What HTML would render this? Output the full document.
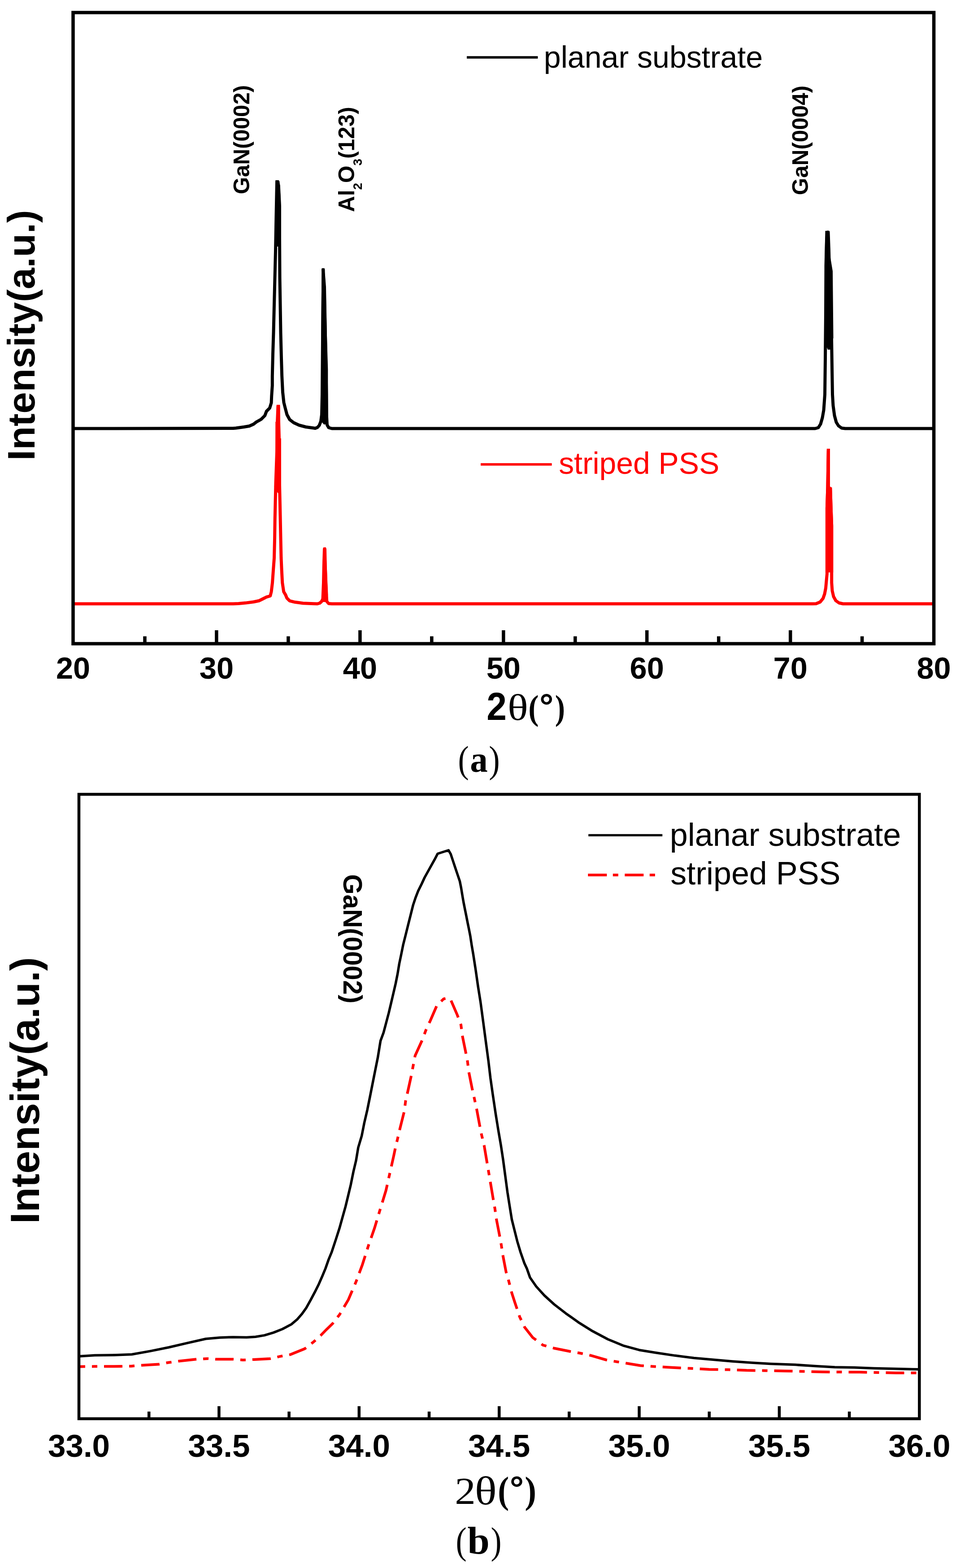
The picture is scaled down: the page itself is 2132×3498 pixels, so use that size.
<!DOCTYPE html>
<html><head><meta charset='utf-8'><title>XRD figure</title>
<style>html,body{margin:0;padding:0;background:#fff;}svg{display:block;}</style>
</head><body>
<svg width='2132' height='3498' viewBox='0 0 2132 3498'>
<rect x='0' y='0' width='2132' height='3498' fill='#fff'/>
<g id='chart-a'>
<polyline points='166.0,956.0 520.0,955.6 526.0,955.0 544.0,952.5 556.0,950.5 565.5,946.3 571.5,941.5 582.3,935.5 590.7,927.1 594.3,917.5 601.5,910.3 605.1,898.4 605.7,884.0 607.3,860.0 607.3,839.0 608.5,790.0 610.0,742.0 611.5,680.0 613.0,620.0 614.5,560.0 616.0,480.0 617.5,406.0 620.0,406.0 622.5,445.0 623.5,530.0 624.0,620.0 625.0,680.0 626.0,742.0 627.5,800.0 628.7,839.0 630.5,875.0 633.0,898.0 636.0,910.0 640.0,925.0 646.0,936.0 655.0,943.0 667.0,948.5 682.0,952.5 700.0,955.0 703.0,955.5 708.0,953.5 712.0,949.0 715.5,940.0 717.5,925.0 718.5,880.0 719.5,760.0 720.5,650.0 721.0,602.0 720.5,602.0 723.5,640.0 725.0,720.0 726.5,800.0 728.0,880.0 728.5,930.0 729.5,948.0 733.0,954.0 740.0,956.0 1818.0,956.0 1825.0,954.0 1830.0,946.0 1834.0,932.0 1837.0,915.0 1839.5,880.0 1840.5,800.0 1841.5,700.0 1842.5,600.0 1843.5,540.0 1845.0,518.0 1847.0,518.0 1848.5,560.0 1850.0,620.0 1852.0,680.0 1854.5,755.0 1855.5,820.0 1856.5,880.0 1858.0,905.0 1861.0,927.0 1865.0,942.0 1870.0,950.0 1877.0,955.0 1885.0,956.0 2079.0,956.0' fill='none' stroke='#000' stroke-width='7' stroke-linejoin='round'/>
<polygon points='614.3,402.0 621.6,402.0 624.7,413.0 627.0,460.0 627.0,540.0 626.0,550.0 613.0,550.0 612.0,517.0 614.3,517.0' fill='#000'/>
<polygon points='1840.5,515.0 1849.5,515.0 1852.0,575.0 1857.0,605.0 1858.5,754.0 1851.5,780.0 1846.0,780.0 1838.5,760.0 1838.5,593.0' fill='#000'/>
<polygon points='717.5,598.5 723.8,598.5 726.7,650.0 728.8,743.0 731.3,824.0 731.3,946.0 722.5,947.0 716.3,940.0 716.3,743.0 717.0,650.0' fill='#000'/>
<polyline points='166.0,1347.0 520.0,1347.0 532.0,1346.5 547.6,1345.1 565.5,1342.7 577.5,1340.3 587.1,1335.5 594.3,1331.9 602.7,1329.5 605.1,1320.0 607.5,1300.0 609.5,1272.0 611.5,1245.0 612.6,1200.0 613.2,1157.0 615.0,1078.0 617.8,1000.0 618.5,941.0 620.0,906.5 621.0,906.5 621.5,941.0 622.5,978.0 623.4,1078.0 625.0,1150.0 626.0,1200.0 627.0,1245.0 628.2,1272.0 629.7,1300.0 632.7,1320.0 636.9,1327.1 639.8,1334.3 645.8,1340.3 657.8,1343.3 675.8,1345.7 699.8,1346.7 708.0,1347.0 713.0,1345.5 717.0,1342.0 720.0,1336.0 721.5,1300.0 722.3,1262.0 723.5,1225.0 724.5,1225.0 725.3,1262.0 726.5,1300.0 727.8,1330.0 729.0,1342.0 733.0,1346.5 740.0,1347.0 1812.0,1347.0 1820.0,1346.8 1829.0,1343.0 1835.5,1335.0 1839.0,1325.0 1841.5,1312.0 1844.4,1280.0 1844.4,1133.0 1845.9,1087.0 1847.3,1004.5 1847.5,1004.5 1847.5,1087.0 1851.8,1090.0 1853.2,1133.0 1854.7,1173.0 1854.7,1300.0 1856.0,1318.0 1859.0,1331.0 1864.0,1340.0 1871.0,1345.0 1880.0,1347.0 2079.0,1347.0' fill='none' stroke='#f00' stroke-width='7' stroke-linejoin='round'/>
<polygon points='616.8,903.0 624.4,903.0 624.4,978.0 626.9,978.0 626.9,1085.0 620.5,1100.0 619.5,1100.0 611.6,1085.0 614.3,1078.0 614.3,941.0 616.8,941.0' fill='#f00'/>
<polygon points='1843.8,1001.0 1851.0,1001.0 1851.0,1087.0 1855.3,1087.0 1856.7,1133.0 1858.2,1173.0 1858.2,1277.0 1840.9,1277.0 1840.9,1133.0 1842.4,1087.0' fill='#f00'/>
<polygon points='721.3,1221.0 726.8,1221.0 728.9,1268.0 731.5,1326.0 731.5,1343.0 725.0,1343.0 719.3,1343.0 719.3,1260.0' fill='#f00'/>
<rect x='163.0' y='28.0' width='1919.6' height='1408.0' fill='none' stroke='#000' stroke-width='7.5'/>
<path d='M323.0,1436.0 V1419.5 M482.9,1436.0 V1406.0 M642.9,1436.0 V1419.5 M802.9,1436.0 V1406.0 M962.8,1436.0 V1419.5 M1122.8,1436.0 V1406.0 M1282.8,1436.0 V1419.5 M1442.7,1436.0 V1406.0 M1602.7,1436.0 V1419.5 M1762.7,1436.0 V1406.0 M1922.6,1436.0 V1419.5' stroke='#000' stroke-width='7.5' fill='none'/>
<text x='163.0' y='1514' font-family="'Liberation Sans', Arial, sans-serif" font-weight='bold' font-size='68.5' text-anchor='middle'>20</text>
<text x='482.9' y='1514' font-family="'Liberation Sans', Arial, sans-serif" font-weight='bold' font-size='68.5' text-anchor='middle'>30</text>
<text x='802.9' y='1514' font-family="'Liberation Sans', Arial, sans-serif" font-weight='bold' font-size='68.5' text-anchor='middle'>40</text>
<text x='1122.8' y='1514' font-family="'Liberation Sans', Arial, sans-serif" font-weight='bold' font-size='68.5' text-anchor='middle'>50</text>
<text x='1442.7' y='1514' font-family="'Liberation Sans', Arial, sans-serif" font-weight='bold' font-size='68.5' text-anchor='middle'>60</text>
<text x='1762.7' y='1514' font-family="'Liberation Sans', Arial, sans-serif" font-weight='bold' font-size='68.5' text-anchor='middle'>70</text>
<text x='2082.6' y='1514' font-family="'Liberation Sans', Arial, sans-serif" font-weight='bold' font-size='68.5' text-anchor='middle'>80</text>
<text transform='translate(1085.22,1606.30) scale(0.9177,1)' font-family="'Liberation Sans', Arial, sans-serif" font-weight='bold' font-size='87.36' fill='#000'>2</text>
<text transform='translate(1132.12,1605.50) scale(1.1610,1)' font-family="'Liberation Serif', 'Times New Roman', serif" font-weight='normal' font-size='82.23' fill='#000'>θ</text>
<text transform='translate(1178.14,1604.65) scale(0.8964,1)' font-family="'Liberation Serif', 'Times New Roman', serif" font-weight='bold' font-size='77.75' fill='#000'>(</text>
<text transform='translate(1203.05,1602.06) scale(1.0116,1)' font-family="'Liberation Sans', Arial, sans-serif" font-weight='bold' font-size='77.69' fill='#000'>°</text>
<text transform='translate(1237.64,1604.65) scale(0.8613,1)' font-family="'Liberation Serif', 'Times New Roman', serif" font-weight='bold' font-size='77.75' fill='#000'>)</text>
<text transform='translate(77,1027.5) rotate(-90)' font-family="'Liberation Sans', Arial, sans-serif" font-weight='bold' font-size='86'>Intensity(a.u.)</text>
<text transform='translate(1021.52,1723.24) scale(0.8584,1)' font-family="'Liberation Serif', 'Times New Roman', serif" font-weight='normal' font-size='84.37' fill='#000'>(</text>
<text transform='translate(1048.16,1722.39) scale(0.9516,1)' font-family="'Liberation Serif', 'Times New Roman', serif" font-weight='bold' font-size='82.88' fill='#000'>a</text>
<text transform='translate(1090.24,1723.24) scale(0.8676,1)' font-family="'Liberation Serif', 'Times New Roman', serif" font-weight='normal' font-size='84.37' fill='#000'>)</text>
<line x1='1041' y1='128' x2='1199.4' y2='128' stroke='#000' stroke-width='5.6'/>
<text x='1212.8' y='151.3' font-family="'Liberation Sans', Arial, sans-serif" font-size='68.1'>planar substrate</text>
<line x1='1072' y1='1036' x2='1230.6' y2='1036' stroke='#f00' stroke-width='5.6'/>
<text x='1246.2' y='1057.3' font-family="'Liberation Sans', Arial, sans-serif" font-size='67.8' fill='#f00'>striped PSS</text>
<text transform='translate(555.6,433.2) rotate(-90)' font-family="'Liberation Sans', Arial, sans-serif" font-weight='bold' font-size='49.2'>GaN(0002)</text>
<text transform='translate(790.3,473.1) rotate(-90)' font-family="'Liberation Sans', Arial, sans-serif" font-weight='bold' font-size='49.5'>Al<tspan font-size='28' dy='17'>2</tspan><tspan dy='-17'>O</tspan><tspan font-size='28' dy='17'>3</tspan><tspan dy='-17'>(123)</tspan></text>
<text transform='translate(1801.6,435.2) rotate(-90)' font-family="'Liberation Sans', Arial, sans-serif" font-weight='bold' font-size='49.4'>GaN(0004)</text>
</g>
<g id='chart-b'>
<polyline points='176.0,3025.8 211.3,3023.6 252.6,3023.0 293.8,3021.5 335.1,3014.1 376.4,3005.8 417.7,2996.1 459.0,2986.8 490.0,2983.9 519.9,2982.9 549.9,2983.5 569.8,2982.3 589.8,2978.9 609.8,2972.9 629.8,2965.0 649.8,2954.4 662.8,2943.4 672.9,2931.8 682.9,2917.8 692.9,2899.9 701.9,2882.9 710.9,2864.9 718.8,2846.9 725.8,2830.0 732.8,2810.0 739.5,2793.8 749.2,2764.5 757.0,2740.2 763.8,2715.8 770.6,2691.5 776.5,2667.1 782.3,2642.8 788.2,2613.6 794.0,2589.2 798.9,2560.0 806.6,2534.2 812.4,2505.0 819.2,2475.8 825.1,2446.6 830.9,2417.4 836.7,2388.2 842.6,2358.9 848.6,2322.0 855.4,2303.5 861.2,2281.6 867.0,2259.6 872.2,2237.7 877.3,2215.8 882.4,2193.9 886.8,2171.9 890.4,2150.0 894.5,2130.5 899.0,2108.2 904.6,2085.9 910.1,2063.6 915.7,2041.3 921.3,2019.0 926.9,2002.2 932.5,1987.7 940.3,1972.0 947.0,1957.5 958.1,1937.5 969.3,1917.4 976.0,1904.5 991.6,1899.5 1000.3,1896.8 1005.2,1905.3 1010.2,1920.5 1015.3,1935.8 1020.4,1951.0 1025.5,1966.2 1028.5,1981.4 1031.0,1996.7 1033.6,2011.9 1036.6,2027.1 1039.7,2042.4 1042.7,2057.6 1045.8,2072.8 1048.8,2088.0 1051.9,2108.4 1055.4,2128.7 1061.0,2165.0 1066.0,2200.0 1071.8,2236.5 1077.7,2280.4 1083.5,2324.2 1089.4,2368.0 1093.7,2404.6 1098.9,2441.1 1105.4,2484.9 1111.3,2521.4 1117.1,2555.0 1121.9,2586.5 1126.8,2623.1 1131.7,2659.6 1136.5,2690.1 1141.4,2720.5 1147.5,2744.9 1153.6,2769.2 1160.9,2793.6 1169.4,2818.0 1175.0,2830.0 1182.0,2850.0 1195.9,2870.0 1213.9,2889.9 1235.9,2909.9 1261.8,2929.9 1289.8,2949.8 1321.8,2969.8 1355.7,2987.8 1389.7,3001.8 1425.6,3011.7 1462.6,3017.7 1505.2,3024.1 1547.8,3029.4 1590.4,3033.2 1633.0,3036.9 1675.6,3040.1 1718.2,3042.5 1773.9,3044.6 1817.9,3047.5 1861.8,3050.1 1905.7,3050.8 1949.7,3052.5 1993.6,3053.4 2048.0,3054.8' fill='none' stroke='#000' stroke-width='5.5' stroke-linejoin='round'/>
<polyline points='176.0,3048.8 210.2,3048.3 251.5,3048.3 292.8,3047.7 316.5,3045.7 353.7,3043.6 376.4,3039.5 399.1,3036.4 438.3,3032.2 462.0,3030.9 482.0,3032.3 519.9,3032.3 541.9,3033.9 565.9,3032.9 602.8,3030.9 624.8,3025.9 647.7,3021.9 679.7,3008.9 697.7,2994.9 715.6,2978.9 728.0,2966.0 741.6,2953.0 757.4,2932.5 776.9,2899.4 794.4,2858.5 808.1,2821.5 821.7,2778.6 835.3,2739.6 847.0,2700.7 860.7,2655.9 878.2,2577.9 881.9,2560.0 887.0,2539.0 892.1,2517.1 901.6,2479.1 904.6,2455.7 909.7,2433.8 917.7,2397.3 922.1,2373.9 925.8,2354.9 941.8,2319.8 949.9,2297.9 959.4,2277.4 974.0,2243.8 989.3,2228.5 997.0,2226.5 1004.6,2229.2 1019.2,2262.8 1028.0,2286.2 1030.9,2309.6 1038.2,2345.4 1042.6,2368.0 1045.5,2391.4 1052.8,2427.9 1057.9,2450.6 1063.1,2474.7 1069.6,2509.8 1074.0,2531.7 1079.9,2556.5 1092.8,2632.7 1100.0,2675.5 1103.7,2696.2 1106.7,2718.1 1114.0,2755.8 1118.0,2777.8 1121.3,2799.7 1128.6,2837.5 1134.4,2857.3 1141.5,2885.0 1148.0,2905.0 1159.0,2937.8 1170.0,2960.8 1188.0,2983.8 1210.9,3000.8 1235.9,3007.8 1270.8,3014.7 1293.8,3018.7 1316.8,3023.7 1351.7,3033.7 1374.7,3037.7 1428.5,3046.5 1458.3,3048.6 1498.8,3050.7 1541.4,3052.8 1581.9,3055.0 1624.5,3055.6 1665.0,3057.1 1707.6,3057.7 1749.8,3058.4 1833.3,3060.6 1916.7,3061.1 1998.0,3062.8 2047.0,3062.8' fill='none' stroke='#f00' stroke-width='6' stroke-dasharray='41 15 12 15' stroke-dashoffset='27'/>
<rect x='176.0' y='1772.0' width='1874.3' height='1393.0' fill='none' stroke='#000' stroke-width='6.5'/>
<path d='M332.2,3165.0 V3149.0 M488.4,3165.0 V3137.0 M644.6,3165.0 V3149.0 M800.8,3165.0 V3137.0 M957.0,3165.0 V3149.0 M1113.2,3165.0 V3137.0 M1269.3,3165.0 V3149.0 M1425.5,3165.0 V3137.0 M1581.7,3165.0 V3149.0 M1737.9,3165.0 V3137.0 M1894.1,3165.0 V3149.0' stroke='#000' stroke-width='6.5' fill='none'/>
<text x='176.0' y='3250' font-family="'Liberation Sans', Arial, sans-serif" font-weight='bold' font-size='71' text-anchor='middle'>33.0</text>
<text x='488.4' y='3250' font-family="'Liberation Sans', Arial, sans-serif" font-weight='bold' font-size='71' text-anchor='middle'>33.5</text>
<text x='800.8' y='3250' font-family="'Liberation Sans', Arial, sans-serif" font-weight='bold' font-size='71' text-anchor='middle'>34.0</text>
<text x='1113.2' y='3250' font-family="'Liberation Sans', Arial, sans-serif" font-weight='bold' font-size='71' text-anchor='middle'>34.5</text>
<text x='1425.5' y='3250' font-family="'Liberation Sans', Arial, sans-serif" font-weight='bold' font-size='71' text-anchor='middle'>35.0</text>
<text x='1737.9' y='3250' font-family="'Liberation Sans', Arial, sans-serif" font-weight='bold' font-size='71' text-anchor='middle'>35.5</text>
<text x='2050.3' y='3250' font-family="'Liberation Sans', Arial, sans-serif" font-weight='bold' font-size='71' text-anchor='middle'>36.0</text>
<text transform='translate(1014.21,3354.50) scale(1.0904,1)' font-family="'Liberation Serif', 'Times New Roman', serif" font-weight='normal' font-size='85.33' fill='#000'>2</text>
<text transform='translate(1058.80,3355.63) scale(1.1487,1)' font-family="'Liberation Serif', 'Times New Roman', serif" font-weight='normal' font-size='89.14' fill='#000'>θ</text>
<text transform='translate(1110.31,3353.07) scale(0.8780,1)' font-family="'Liberation Serif', 'Times New Roman', serif" font-weight='bold' font-size='85.14' fill='#000'>(</text>
<text transform='translate(1136.76,3346.70) scale(1.0335,1)' font-family="'Liberation Sans', Arial, sans-serif" font-weight='bold' font-size='75.74' fill='#000'>°</text>
<text transform='translate(1170.30,3353.07) scale(0.9100,1)' font-family="'Liberation Serif', 'Times New Roman', serif" font-weight='bold' font-size='85.14' fill='#000'>)</text>
<text transform='translate(87.3,2730) rotate(-90)' font-family="'Liberation Sans', Arial, sans-serif" font-weight='bold' font-size='91.5'>Intensity(a.u.)</text>
<text transform='translate(1016.52,3466.24) scale(0.8584,1)' font-family="'Liberation Serif', 'Times New Roman', serif" font-weight='normal' font-size='84.37' fill='#000'>(</text>
<text transform='translate(1042.47,3466.15) scale(1.0179,1)' font-family="'Liberation Serif', 'Times New Roman', serif" font-weight='bold' font-size='87.12' fill='#000'>b</text>
<text transform='translate(1094.48,3466.24) scale(0.8538,1)' font-family="'Liberation Serif', 'Times New Roman', serif" font-weight='normal' font-size='84.37' fill='#000'>)</text>
<line x1='1312.2' y1='1863.3' x2='1477.2' y2='1863.3' stroke='#000' stroke-width='5'/>
<text x='1493.8' y='1886.5' font-family="'Liberation Sans', Arial, sans-serif" font-size='71.9'>planar substrate</text>
<line x1='1311.3' y1='1952' x2='1463.1' y2='1952' stroke='#f00' stroke-width='6' stroke-dasharray='42 13.5 12 14.5'/>
<text x='1495.3' y='1972.7' font-family="'Liberation Sans', Arial, sans-serif" font-size='71.8'>striped PSS</text>
<text transform='translate(766.3,1950.2) rotate(90)' font-family="'Liberation Sans', Arial, sans-serif" font-weight='bold' font-size='58.3'>GaN(0002)</text>
</g>
</svg>
</body></html>
